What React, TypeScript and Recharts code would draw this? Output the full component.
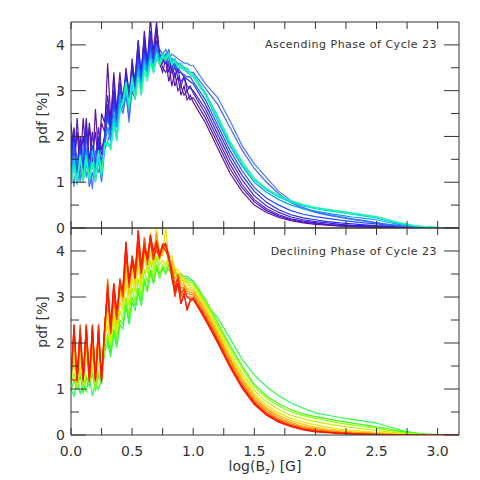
import { LineChart, Line, XAxis, YAxis } from 'recharts'

// x grid: 0..1.0 every 0.025, then 1.1..3.1 every 0.1, then right edge
const xs = [0, 0.025, 0.05, 0.075, 0.1, 0.125, 0.15, 0.175, 0.2, 0.225, 0.25, 0.275, 0.3, 0.325, 0.35, 0.375, 0.4,
  0.425, 0.45, 0.475, 0.5, 0.525, 0.55, 0.575, 0.6, 0.625, 0.65, 0.675, 0.7, 0.725, 0.75, 0.775, 0.8, 0.825, 0.85,
  0.875, 0.9, 0.925, 0.95, 0.975, 1.0, 1.1, 1.2, 1.3, 1.4, 1.5, 1.6, 1.7, 1.8, 1.9, 2.0, 2.1, 2.2, 2.3, 2.4, 2.5,
  2.6, 2.7, 2.8, 2.9, 3.0, 3.1, 3.175]

const xTicks = [0, 0.25, 0.5, 0.75, 1, 1.25, 1.5, 1.75, 2, 2.25, 2.5, 2.75, 3]
const yTicks = [0, 0.5, 1, 1.5, 2, 2.5, 3, 3.5, 4]

// ascending phase, purple -> blue -> green
const asc0 = [2.3,1.4,2.1,1.3,2.4,1.5,2.2,1.3,2.6,1.6,2.3, 2.1,3.6,2.4,3.0,2.6,3.4, 2.7,3.5,2.9,3.6, 3.2,4.1,3.3,4.3, 3.6,4.6,3.7,4.3,3.6, 3.4,3.7,3.2,3.5,3.1,3.3, 2.9,3.1,2.8,2.9,2.75,
  2.3,1.75,1.2,0.8,0.5,0.34,0.23,0.16,0.11,0.08,0.06,0.04,0.03,0.02,0.01,0.01,0,0,0,0,0,0]
const asc1 = [2.0,1.2,2.4,1.5,2.0,1.3,2.3,1.6,2.1,1.4,2.5, 2.3,2.9,2.2,3.4,2.5,3.0, 2.9,3.3,2.6,3.7, 3.0,3.8,3.4,4.1, 3.5,4.2,3.9,4.5,3.7, 3.5,3.4,3.6,3.1,3.4,3.0, 3.1,2.9,3.0,2.8,2.85,
  2.4,1.85,1.3,0.88,0.57,0.38,0.26,0.18,0.13,0.1,0.07,0.05,0.04,0.03,0.02,0.01,0,0,0,0,0,0]
const asc2 = [1.8,2.2,1.3,2.0,1.5,2.4,1.4,2.1,1.3,2.2,1.7, 2.0,2.7,2.3,3.3,2.4,3.1, 2.6,3.4,3.0,3.3, 3.3,3.9,3.2,4.0, 3.7,4.1,3.6,4.4,3.8, 3.6,3.8,3.4,3.6,3.3,3.5, 3.1,3.3,3.0,3.1,2.95,
  2.5,1.95,1.4,0.95,0.62,0.42,0.29,0.2,0.15,0.11,0.08,0.06,0.05,0.04,0.03,0.02,0.01,0,0,0,0,0]
const asc3 = [1.6,2.1,1.2,1.9,1.4,2.2,1.5,1.8,1.3,2.0,1.6, 1.9,2.6,2.1,2.9,2.5,3.2, 2.8,3.1,2.7,3.5, 3.1,3.7,3.4,4.2, 3.5,3.9,3.7,4.1,3.8, 3.7,3.6,3.8,3.4,3.5,3.3, 3.2,3.3,3.1,3.05,3.0,
  2.6,2.05,1.5,1.05,0.7,0.48,0.34,0.24,0.18,0.14,0.11,0.08,0.06,0.05,0.04,0.03,0.02,0.01,0,0,0,0]
const asc4 = [1.5,2.0,1.3,1.8,1.2,2.1,1.4,1.7,1.5,1.9,1.3, 2.0,2.4,2.2,2.8,2.3,3.0, 2.9,3.3,2.8,3.4, 3.3,4.1,3.2,3.9, 3.6,4.3,3.8,4.0,3.9, 3.8,3.7,3.9,3.5,3.6,3.4, 3.4,3.3,3.25,3.2,3.15,
  2.7,2.15,1.6,1.15,0.8,0.56,0.4,0.29,0.22,0.18,0.14,0.11,0.09,0.07,0.05,0.04,0.02,0.01,0,0,0,0]
const asc5 = [1.4,0.9,1.6,1.0,1.8,1.1,1.5,0.85,1.7,1.2,1.4, 1.8,2.2,1.9,2.7,2.2,2.8, 2.6,3.0,2.3,3.2, 3.0,3.6,2.9,3.8, 3.4,3.9,3.6,4.0,3.7, 3.8,3.9,3.7,3.8,3.75,3.7, 3.65,3.6,3.6,3.55,3.55,
  3.15,2.85,2.35,1.8,1.4,1.1,0.8,0.6,0.45,0.35,0.3,0.25,0.2,0.16,0.12,0.08,0.05,0.02,0.01,0,0,0]
const asc6 = [1.3,1.9,1.1,1.7,1.4,2.0,1.2,1.8,1.3,1.6,1.5, 1.9,2.5,2.0,2.7,2.4,3.1, 2.7,3.2,3.0,3.3, 3.1,3.7,3.3,3.8, 3.5,4.0,3.6,3.9,3.8, 3.7,3.8,3.6,3.7,3.5,3.5, 3.4,3.35,3.3,3.3,3.2,
  2.8,2.25,1.7,1.25,0.88,0.65,0.5,0.38,0.3,0.25,0.21,0.17,0.14,0.11,0.09,0.06,0.04,0.02,0.01,0,0,0]
const asc7 = [1.1,1.5,0.95,1.3,1.0,1.6,0.9,1.2,1.05,1.5,1.0, 1.7,1.9,2.1,2.4,2.0,2.7, 2.5,2.9,2.4,3.0, 2.8,3.4,3.1,3.6, 3.3,3.8,3.4,3.7,3.6, 3.7,3.75,3.6,3.7,3.65,3.6, 3.55,3.5,3.45,3.4,3.4,
  3.05,2.7,2.2,1.7,1.3,1.0,0.75,0.56,0.42,0.34,0.28,0.23,0.19,0.15,0.11,0.07,0.04,0.02,0.01,0,0,0]
const asc8 = [1.2,1.6,1.0,1.5,1.1,1.7,1.2,1.4,1.0,1.6,1.3, 1.8,2.2,1.9,2.5,2.2,2.9, 2.6,3.1,2.7,3.2, 3.0,3.5,3.1,3.7, 3.4,3.8,3.5,3.9,3.7, 3.8,3.7,3.75,3.6,3.6,3.5, 3.5,3.45,3.4,3.35,3.3,
  2.9,2.35,1.8,1.35,1.0,0.78,0.62,0.5,0.42,0.37,0.32,0.28,0.24,0.21,0.18,0.12,0.07,0.04,0.02,0.01,0,0]
const asc9 = [1.1,1.5,1.0,1.6,1.15,1.4,1.0,1.7,1.2,1.5,1.1, 1.8,1.85,1.8,2.4,2.0,2.7, 2.7,3.0,2.6,3.1, 2.9,3.4,3.0,3.6, 3.3,3.7,3.4,3.8,3.6, 3.8,3.75,3.8,3.65,3.7,3.55, 3.55,3.5,3.45,3.4,3.35,
  2.95,2.4,1.85,1.4,1.05,0.83,0.68,0.56,0.48,0.42,0.38,0.34,0.3,0.26,0.22,0.15,0.09,0.05,0.02,0.01,0,0]
const asc10 = [1.0,1.4,0.95,1.5,1.1,1.6,1.05,1.45,1.2,1.7,1.15, 1.85,1.8,1.75,2.3,1.9,2.6, 2.7,3.1,2.6,3.2, 2.9,3.3,3.0,3.5, 3.3,3.7,3.5,3.8,3.6, 3.8,3.7,3.85,3.6,3.7,3.55, 3.6,3.5,3.5,3.4,3.35,
  2.95,2.45,1.9,1.45,1.08,0.86,0.7,0.59,0.5,0.44,0.4,0.36,0.32,0.28,0.24,0.17,0.1,0.05,0.02,0.01,0,0]
const asc11 = [0.95,1.3,1.05,1.6,1.0,1.5,1.1,1.4,1.0,1.65,1.2, 1.8,1.9,1.7,2.2,2.0,2.5, 2.8,3.2,2.7,3.3, 2.8,3.3,2.9,3.4, 3.2,3.6,3.4,3.75,3.55, 3.75,3.65,3.8,3.55,3.65,3.5, 3.55,3.45,3.45,3.35,3.3,
  2.9,2.4,1.88,1.42,1.06,0.86,0.71,0.6,0.51,0.45,0.41,0.37,0.33,0.29,0.25,0.18,0.11,0.06,0.03,0.01,0,0]

// declining phase, green -> yellow -> red
const dec0 = [1.0,0.85,1.2,0.9,1.1,0.95,1.3,0.85,1.15,1.0,1.2, 1.8,2.0,1.7,2.2,1.9,2.4, 2.3,2.8,2.4,2.9, 2.7,3.1,2.8,3.3, 3.2,3.5,3.3,3.6,3.5, 3.6,3.55,3.6,3.5,3.55,3.5, 3.5,3.45,3.45,3.4,3.35,
  2.85,2.55,2.1,1.65,1.3,1.05,0.85,0.7,0.58,0.48,0.43,0.38,0.34,0.3,0.26,0.18,0.1,0.05,0.02,0.01,0,0]
const dec1 = [0.95,1.2,1.0,1.3,0.9,1.25,1.05,1.35,0.95,1.3,1.1, 1.9,2.1,1.8,2.3,2.0,2.5, 2.4,2.9,2.5,3.0, 2.8,3.2,2.9,3.4, 3.1,3.6,3.3,3.7,3.4, 3.65,3.5,3.7,3.45,3.6,3.4, 3.5,3.4,3.4,3.35,3.35,
  2.95,2.45,1.95,1.5,1.1,0.85,0.68,0.55,0.46,0.4,0.35,0.3,0.26,0.22,0.18,0.13,0.08,0.04,0.02,0.01,0,0]
const dec2 = [1.1,1.35,1.0,1.4,1.05,1.3,1.1,1.5,1.0,1.4,1.15, 2.0,2.2,1.9,2.5,2.1,2.7, 2.5,3.0,2.6,3.2, 2.9,3.4,3.0,3.6, 3.3,3.8,3.4,3.9,3.5, 3.7,3.6,3.8,3.5,3.6,3.4, 3.45,3.4,3.35,3.3,3.3,
  2.9,2.4,1.9,1.45,1.05,0.8,0.63,0.5,0.42,0.36,0.31,0.26,0.22,0.18,0.15,0.1,0.06,0.03,0.01,0,0,0]
const dec3 = [1.15,1.6,1.05,1.5,1.1,1.7,1.2,1.55,1.1,1.6,1.2, 2.1,2.4,2.0,2.6,2.2,2.9, 2.7,3.3,2.8,3.4, 3.1,3.7,3.2,3.9, 3.5,4.0,3.6,4.1,3.7, 3.8,3.7,3.9,3.55,3.65,3.45, 3.4,3.35,3.3,3.25,3.25,
  2.85,2.35,1.82,1.35,0.97,0.72,0.55,0.43,0.35,0.29,0.24,0.2,0.16,0.13,0.1,0.07,0.04,0.02,0.01,0,0,0]
const dec4 = [1.2,1.8,1.1,1.7,1.2,1.9,1.15,1.75,1.2,1.85,1.3, 2.2,2.6,2.1,2.8,2.3,3.1, 2.8,3.5,3.0,3.6, 3.2,3.9,3.3,4.1, 3.6,4.3,3.7,4.5,3.8, 4.0,4.5,3.8,3.9,3.6,3.6, 3.5,3.4,3.3,3.2,3.2,
  2.78,2.28,1.75,1.28,0.9,0.65,0.48,0.36,0.28,0.22,0.17,0.13,0.1,0.08,0.06,0.04,0.02,0.01,0,0,0,0]
const dec5 = [1.2,2.0,1.15,1.9,1.2,2.1,1.2,1.8,1.25,2.0,1.3, 2.3,2.8,2.2,3.0,2.4,3.2, 2.9,3.7,3.1,3.8, 3.3,4.0,3.4,4.2, 3.7,4.4,3.8,4.3,3.9, 3.9,4.2,3.7,3.8,3.5,3.5, 3.4,3.3,3.2,3.15,3.15,
  2.72,2.22,1.7,1.22,0.85,0.6,0.43,0.31,0.23,0.17,0.13,0.1,0.07,0.05,0.04,0.02,0.01,0,0,0,0,0]
const dec6 = [1.2,2.2,1.2,2.1,1.2,2.2,1.15,2.0,1.2,2.2,1.25, 2.2,3.0,2.3,3.2,2.5,3.4, 3.0,3.8,3.2,3.9, 3.4,4.1,3.5,4.3, 3.8,4.2,3.9,4.4,3.9, 4.0,4.1,3.8,3.7,3.4,3.5, 3.3,3.25,3.15,3.1,3.1,
  2.68,2.18,1.65,1.18,0.8,0.56,0.39,0.27,0.19,0.14,0.1,0.07,0.05,0.04,0.03,0.02,0.01,0,0,0,0,0]
const dec7 = [1.25,2.3,1.2,2.2,1.25,2.3,1.2,2.2,1.3,2.3,1.2, 2.3,3.2,2.2,3.0,2.5,3.3, 3.1,4.0,3.3,3.8, 3.5,4.2,3.6,4.1, 3.9,4.3,3.8,4.2,4.0, 4.1,4.0,3.9,3.6,3.3,3.4, 3.2,3.2,3.1,3.05,3.05,
  2.62,2.12,1.6,1.12,0.76,0.52,0.35,0.24,0.16,0.11,0.08,0.06,0.04,0.03,0.02,0.01,0,0,0,0,0,0]
const dec8 = [1.15,2.4,1.2,2.3,1.15,2.4,1.2,2.3,1.15,2.4,1.2, 2.2,3.4,2.3,3.2,2.6,3.2, 3.2,4.2,3.2,3.8, 3.6,4.0,3.5,4.3, 3.7,4.2,4.0,4.1,3.9, 4.15,4.1,3.9,3.5,3.1,3.5, 3.0,3.2,3.0,3.0,3.0,
  2.58,2.08,1.55,1.08,0.72,0.48,0.32,0.21,0.14,0.1,0.07,0.05,0.03,0.02,0.01,0.01,0,0,0,0,0,0]
const dec9 = [1.2,2.3,1.15,2.4,1.2,2.2,1.15,2.35,1.2,2.3,1.15, 2.25,3.3,2.2,3.1,2.5,3.3, 3.0,3.9,3.4,3.7, 3.5,4.45,3.6,4.2, 3.8,4.3,3.9,4.0,3.85, 4.15,4.15,3.8,3.6,3.0,3.3, 2.85,3.1,2.7,2.95,2.95,
  2.52,2.03,1.5,1.04,0.68,0.45,0.29,0.19,0.12,0.08,0.06,0.04,0.03,0.02,0.01,0,0,0,0,0,0,0]
const dec10 = [1.2,1.2,1.2,2.3,1.2,2.4,1.2,2.3,1.2,2.4,1.2, 2.3,3.2,2.4,3.3,2.6,3.4, 3.1,4.1,3.3,3.9, 3.6,4.2,3.5,4.0, 3.9,4.2,3.8,4.1,3.9, 4.1,4.0,3.85,3.55,3.2,3.4, 3.1,3.15,3.0,2.95,2.98,
  2.55,2.05,1.52,1.06,0.7,0.46,0.3,0.2,0.13,0.09,0.06,0.04,0.03,0.02,0.01,0,0,0,0,0,0,0]
const dec11 = [1.25,2.4,1.2,2.2,1.2,2.35,1.25,2.4,1.2,2.2,1.2, 2.4,3.1,2.3,3.3,2.7,3.2, 3.2,4.2,3.3,3.8, 3.4,4.45,3.7,4.1, 3.8,4.35,4.0,4.2,3.9, 4.1,4.15,3.9,3.4,3.1,3.3, 2.85,3.05,2.75,2.9,2.95,
  2.5,2.0,1.48,1.02,0.66,0.43,0.28,0.18,0.11,0.07,0.05,0.03,0.02,0.01,0.01,0,0,0,0,0,0,0]

const ascCurves = [asc0, asc1, asc2, asc3, asc4, asc5, asc6, asc7, asc8, asc9, asc10, asc11]
const decCurves = [dec0, dec1, dec2, dec3, dec4, dec5, dec6, dec7, dec8, dec9, dec10, dec11]

const ascColors = ['#5a14a0', '#5516b0', '#4a1cc4', '#3a20dc', '#2a28f0', '#4a78ff', '#1e50ff', '#3c64ff',
  '#0a9cff', '#00d0e8', '#00f0b8', '#1effa0']
const decColors = ['#28ff50', '#3cff14', '#8cff00', '#c8f000', '#f0e000', '#ffc000', '#ffa000', '#ff7800',
  '#ff5a00', '#ff3c00', '#ff2800', '#ff1400']

const FONT = "'DejaVu Sans', sans-serif"
const INK = '#333'

const isHalf = (v: number) => Math.abs(v * 2 - Math.round(v * 2)) < 1e-6

const leftTick = (p: any) => {
  const { x, y, payload } = p
  const major = Number.isInteger(payload.value)
  return (
    <g>
      <line x1={x} x2={x + (major ? 15 : 8)} y1={y} y2={y} stroke={INK} />
      {major && <text x={x - 6} y={y + 5} textAnchor="end" fontSize={14} fill={INK} fontFamily={FONT}>{payload.value}</text>}
    </g>
  )
}
const rightTick = (p: any) => {
  const { x, y, payload } = p
  const major = Number.isInteger(payload.value)
  return <line x1={x} x2={x - (major ? 15 : 8)} y1={y} y2={y} stroke={INK} />
}
const bottomTick = (labels: boolean) => (p: any) => {
  const { x, y, payload } = p
  return (
    <g>
      <line x1={x} x2={x} y1={y} y2={y - 7} stroke={INK} />
      {labels && isHalf(payload.value) && (
        <text x={x} y={y + 21} textAnchor="middle" fontSize={14} fill={INK} fontFamily={FONT}>{payload.value.toFixed(1)}</text>
      )}
    </g>
  )
}
const topTick = (p: any) => <line x1={p.x} x2={p.x} y1={p.y} y2={p.y + 7} stroke={INK} />

function Panel({ curves, colors, height, margin, labels }: any) {
  const rows = xs.map((x, i) => {
    const r: Record<string, number> = { x }
    curves.forEach((c: number[], k: number) => { r['s' + k] = c[i] })
    return r
  })
  return (
    <LineChart width={480} height={height} data={rows} margin={margin}>
      <XAxis xAxisId="b" dataKey="x" type="number" domain={[0, 3.175]} allowDataOverflow ticks={xTicks} interval={0}
        height={1} tickSize={0} tickMargin={0} tickLine={false} axisLine={{ stroke: INK }} tick={bottomTick(labels)} />
      <XAxis xAxisId="t" orientation="top" dataKey="x" type="number" domain={[0, 3.175]} allowDataOverflow ticks={xTicks}
        interval={0} height={1} tickSize={0} tickMargin={0} tickLine={false} axisLine={{ stroke: INK }} tick={topTick} />
      <YAxis yAxisId="l" type="number" domain={[0, 4.5]} allowDataOverflow ticks={yTicks} interval={0} width={1}
        tickSize={0} tickMargin={0} tickLine={false} axisLine={{ stroke: INK }} tick={leftTick} />
      <YAxis yAxisId="r" orientation="right" type="number" domain={[0, 4.5]} allowDataOverflow ticks={yTicks} interval={0}
        width={1} tickSize={0} tickMargin={0} tickLine={false} axisLine={{ stroke: INK }} tick={rightTick} />
      {curves.map((_: number[], k: number) => (
        <Line key={k} xAxisId="b" yAxisId="l" dataKey={'s' + k} type="linear" stroke={colors[k]} strokeWidth={1.2}
          dot={false} activeDot={false} isAnimationActive={false} />
      ))}
    </LineChart>
  )
}

const txt = { position: 'absolute' as const, fontFamily: FONT, color: INK, whiteSpace: 'nowrap' as const }

export default function App() {
  return (
    <div style={{ position: 'absolute', left: 0, top: 0, width: 480, height: 480, background: '#fff' }}>
      <div style={{ position: 'absolute', left: 0, top: 0 }}>
        <Panel curves={ascCurves} colors={ascColors} height={240} margin={{ top: 21, right: 20, bottom: 11, left: 70 }} labels={false} />
      </div>
      <div style={{ position: 'absolute', left: 0, top: 200 }}>
        <Panel curves={decCurves} colors={decColors} height={280} margin={{ top: 27, right: 20, bottom: 44, left: 70 }} labels />
      </div>
      <div style={{ ...txt, right: 43, top: 38, fontSize: 11, lineHeight: '14px', letterSpacing: 0.5 }}>Ascending Phase of Cycle 23</div>
      <div style={{ ...txt, right: 43, top: 245, fontSize: 11, lineHeight: '14px', letterSpacing: 0.5 }}>Declining Phase of Cycle 23</div>
      <div style={{ ...txt, left: -8, top: 110, width: 100, textAlign: 'center', fontSize: 14, lineHeight: '16px', transform: 'rotate(-90deg)' }}>pdf [%]</div>
      <div style={{ ...txt, left: -8, top: 314, width: 100, textAlign: 'center', fontSize: 14, lineHeight: '16px', transform: 'rotate(-90deg)' }}>pdf [%]</div>
      <div style={{ ...txt, left: 165, top: 458, width: 200, textAlign: 'center', fontSize: 14, lineHeight: '16px' }}>
        log(B<span style={{ fontSize: 9, verticalAlign: -3, lineHeight: 0 }}>z</span>) [G]
      </div>
    </div>
  )
}
